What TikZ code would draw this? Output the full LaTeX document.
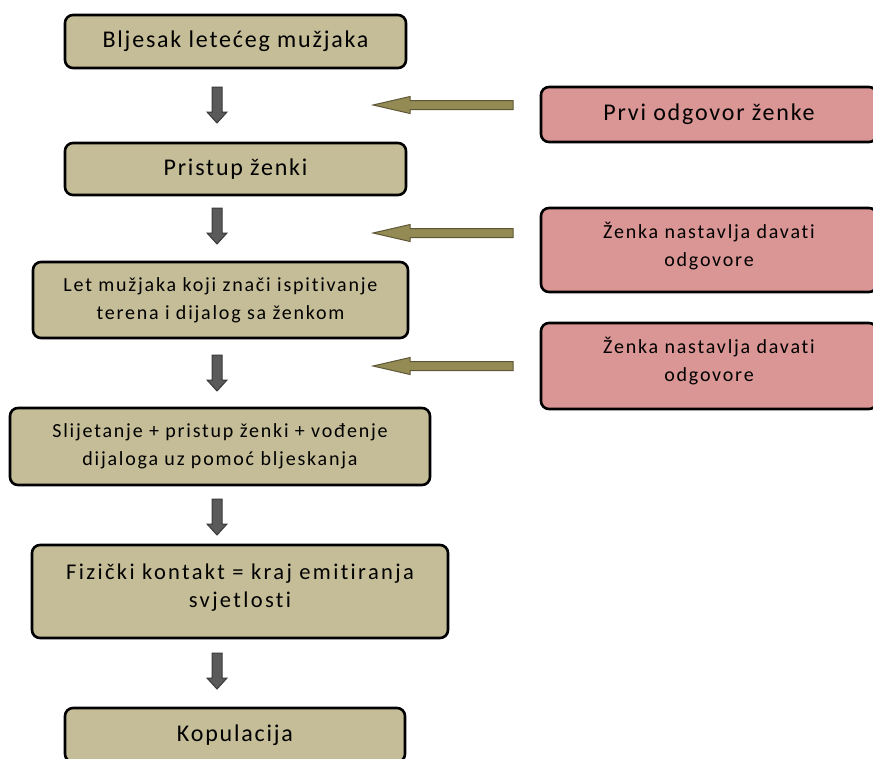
\documentclass[tikz,border=0pt]{standalone}
\usepackage{fontspec}
\setmainfont{Carlito}[Ligatures=NoCommon]
\definecolor{tanfill}{HTML}{C4BD97}
\definecolor{pinkfill}{HTML}{D99694}
\definecolor{olivefill}{HTML}{948A54}
\definecolor{oliveline}{HTML}{5E5736}
\definecolor{grayfill}{HTML}{5A5A5A}
\definecolor{grayline}{HTML}{3A3A3A}
\tikzset{
  tanbox/.style={draw=black, line width=2.6pt, fill=tanfill, rounded corners=8pt, align=center, inner sep=0pt},
  pinkbox/.style={draw=black, line width=2.6pt, fill=pinkfill, rounded corners=8pt, align=center, inner sep=0pt},
  big/.style={font=\fontsize{24}{29}\selectfont\addfontfeature{LetterSpace=7.5}},
  mid/.style={font=\fontsize{22.5}{28}\selectfont\addfontfeature{LetterSpace=10.5}},
  small/.style={font=\fontsize{20}{28}\selectfont\addfontfeature{LetterSpace=9}},
  downarr/.pic={\draw[fill=grayfill, draw=grayline, line width=1pt, line join=miter]
     (-5,0) -- (5,0) -- (5,25) -- (10,25) -- (0,36) -- (-10,25) -- (-5,25) -- cycle;},
  leftarr/.pic={\draw[fill=olivefill, draw=oliveline, line width=1pt, line join=miter]
     (0,-4.5) -- (-103,-4.5) -- (-103,-8.5) -- (-140,0) -- (-103,8.5) -- (-103,4.5) -- (0,4.5) -- cycle;}
}
\begin{document}
\begin{tikzpicture}[x=1pt,y=-1pt]
\useasboundingbox (0,0) rectangle (873,758);
% left column
\node[tanbox, big, minimum width=341pt, minimum height=53pt] (b1) at (235.5,41.5) {Bljesak letećeg mužjaka};
\node[tanbox, big, minimum width=341pt, minimum height=52pt] (b2) at (235.5,169) {Pristup ženki};
\node[tanbox, small, minimum width=375pt, minimum height=76pt] (b3) at (220.5,300) {Let mužjaka koji znači ispitivanje\\terena i dijalog sa ženkom};
\node[tanbox, small, minimum width=420pt, minimum height=77pt] (b4) at (220,446.5) {Slijetanje + pristup ženki + vođenje\\dijaloga uz pomoć bljeskanja};
\node[tanbox, mid, minimum width=416pt, minimum height=93pt, text depth=12pt] (b5) at (240,591.5) {Fizički kontakt = kraj emitiranja\\svjetlosti};
\node[tanbox, big, minimum width=340pt, minimum height=54pt] (b6) at (235,735) {Kopulacija};
% right column
\node[pinkbox, big, minimum width=336pt, minimum height=55pt] (r1) at (709,114.5) {Prvi odgovor ženke};
\node[pinkbox, small, minimum width=336pt, minimum height=84pt, text depth=12pt] (r2) at (709,250) {Ženka nastavlja davati\\odgovore};
\node[pinkbox, small, minimum width=336pt, minimum height=86pt, text depth=13pt] (r3) at (709,366) {Ženka nastavlja davati\\odgovore};
% down arrows
\pic at (217,87) {downarr};
\pic at (217,208) {downarr};
\pic at (217,355) {downarr};
\pic at (217,499) {downarr};
\pic at (217,653) {downarr};
% left arrows
\pic at (513,105) {leftarr};
\pic at (513,233) {leftarr};
\pic at (513,366) {leftarr};
\end{tikzpicture}
\end{document}
